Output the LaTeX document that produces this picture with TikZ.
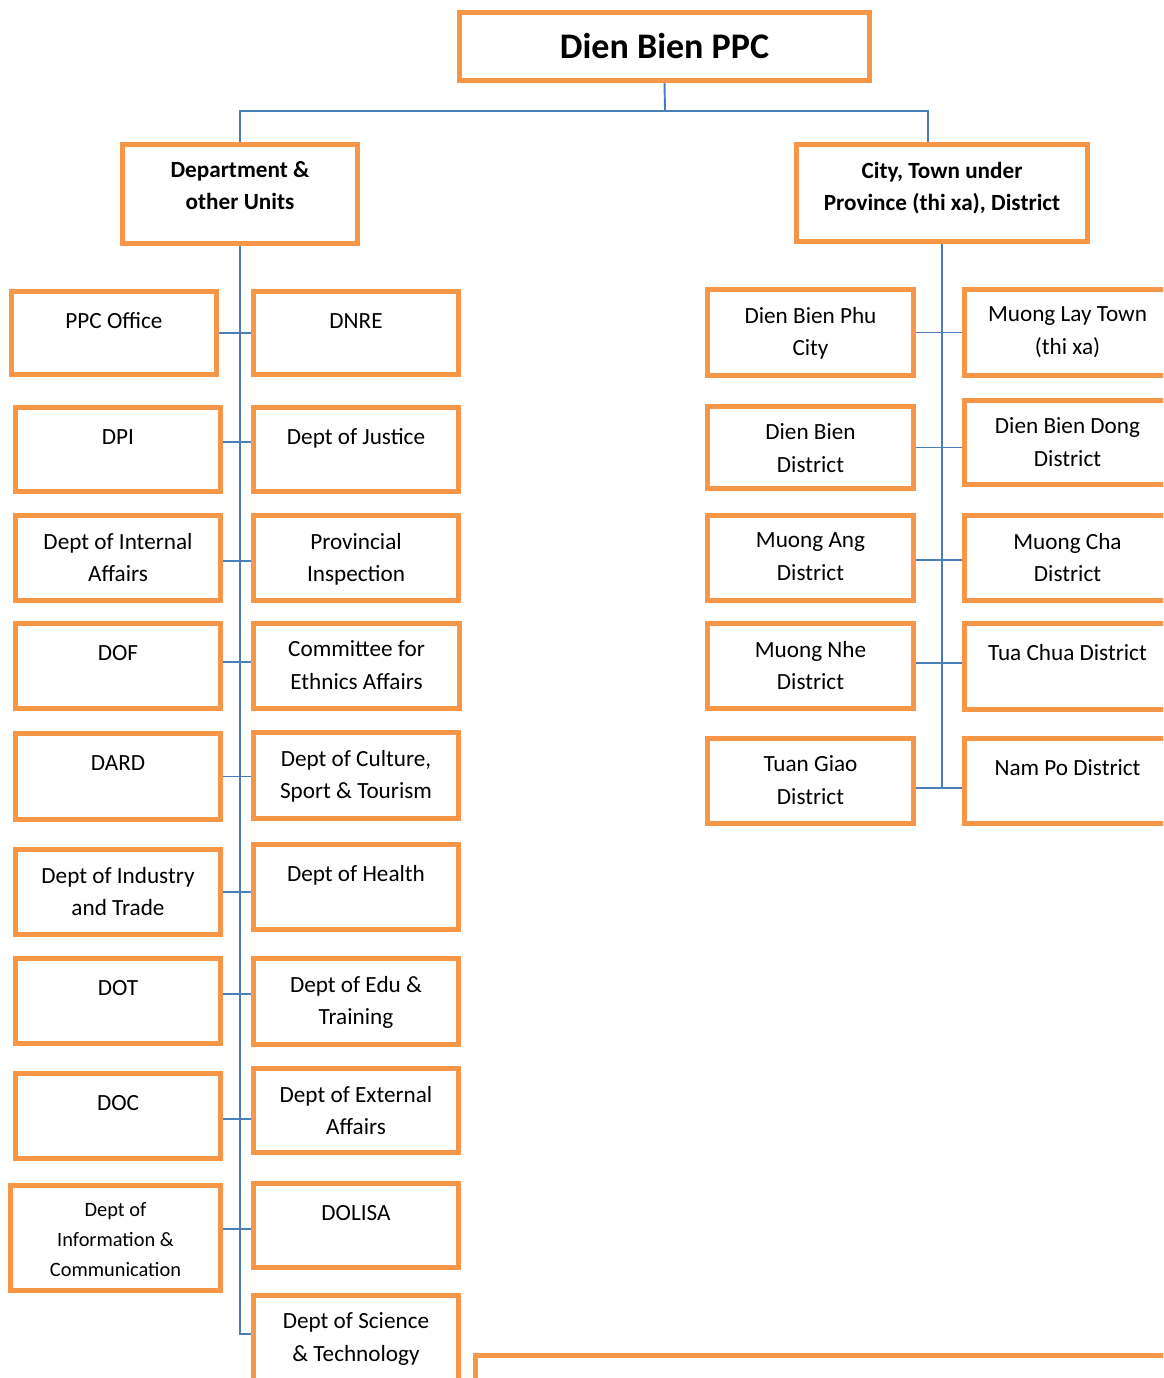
\documentclass[tikz,border=0pt]{standalone}
\usepackage{fontspec}
\setmainfont{Carlito}
\definecolor{boxorange}{HTML}{F79646}
\definecolor{linkblue}{HTML}{4A7EBB}
\tikzset{
  unitbox/.style={draw=boxorange, line width=2.8pt, rectangle, inner sep=0pt, fill=white},
  unittext/.style={font=\fontsize{13.2}{18.4}\selectfont, align=center, anchor=north, inner sep=0pt,
    execute at begin node={\rule{0pt}{11pt}}},
  headtext/.style={unittext, font=\fontsize{13.2}{18.2}\selectfont\bfseries},
  smalltext/.style={unittext, font=\fontsize{11.6}{17}\selectfont},
  link/.style={draw=linkblue, line width=1.1pt}
}
\def\pxu{0.02cm}
% box from outer corners: name, x1, y1, x2, y2, text style, text
\def\orgbox(#1,#2,#3,#4,#5,#6,#7){
  \node[unitbox, minimum width={(#4-#2-5)*\pxu}, minimum height={(#5-#3-5)*\pxu}] (#1) at ({(#2+#4)/2},{(#3+#5)/2}) {};
  \node[#6] (#1t) at ({(#2+#4)/2},{#3+19.6}) {#7};
}
% connector across the spine
\def\linkrow(#1,#2,#3){
  \coordinate (#1c) at ([yshift=#3]#1.east);
  \draw[link] (#1c) -- (#1c -| #2.west);
}
\begin{document}
\begin{tikzpicture}[x=0.02cm, y=-0.02cm]
\useasboundingbox (0,0) rectangle (1163,1378);
\clip (0,0) rectangle (1163,1378);

% top
\node[unitbox, minimum width=8.2cm, minimum height=1.36cm, font=\fontsize{20.5}{24}\selectfont\bfseries] (ppc) at (664.5,46.5) {Dien Bien PPC};
\orgbox(dept,120,142,360,246,headtext,{Department \&\\ other Units})
\orgbox(city,794,142,1090,244,headtext,{City, Town under\\ Province (thi xa), District})

% departments
\orgbox(ppco,9,289,219,377,unittext,PPC Office)
\orgbox(dnre,251,289,461,377,unittext,DNRE)
\orgbox(dpi,13,405,223,494,unittext,DPI)
\orgbox(doj,251,405,461,494,unittext,Dept of Justice)
\orgbox(dia,13,513,223,603,unittext,Dept of Internal\\ Affairs)
\orgbox(pin,251,513,461,603,unittext,Provincial\\ Inspection)
\orgbox(dof,13,621,223,711,unittext,DOF)
\orgbox(cea,251,621,462,711,unittext,Committee for\\ Ethnics Affairs)
\orgbox(dard,13,731,223,822,unittext,DARD)
\orgbox(dcst,251,730,461,821,unittext,{Dept of Culture,\\ Sport \& Tourism})
\orgbox(dit,13,847,223,937,unittext,Dept of Industry\\ and Trade)
\orgbox(doh,251,842,461,932,unittext,Dept of Health)
\orgbox(dot,13,956,223,1046,unittext,DOT)
\orgbox(det,251,956,461,1047,unittext,Dept of Edu \&\\ Training)
\orgbox(doc,13,1071,223,1161,unittext,DOC)
\orgbox(dea,251,1066,461,1155,unittext,Dept of External\\ Affairs)
\orgbox(dic,8,1183,223,1293,smalltext,Dept of\\ Information \&\\ Communication)
\orgbox(dolisa,251,1181,461,1270,unittext,DOLISA)
\orgbox(dst,251,1293,461,1390,unittext,Dept of Science\\ \& Technology)

% districts
\orgbox(dbp,705,287,916,378,unittext,Dien Bien Phu\\ City)
\orgbox(mlt,962,287,1173,378,unittext,{Muong Lay Town\\ (thi xa)})
\orgbox(dbd,705,404,916,491,unittext,Dien Bien\\ District)
\orgbox(dbdd,962,398,1173,487,unittext,Dien Bien Dong\\ District)
\orgbox(mad,705,513,916,603,unittext,Muong Ang\\ District)
\orgbox(mcd,962,513,1173,603,unittext,Muong Cha\\ District)
\orgbox(mnd,705,621,916,711,unittext,Muong Nhe\\ District)
\orgbox(tcd,962,621,1173,712,unittext,Tua Chua District)
\orgbox(tgd,705,736,916,826,unittext,Tuan Giao\\ District)
\orgbox(npd,962,736,1173,826,unittext,Nam Po District)

% note below
\node[unitbox, minimum width=13.94cm, minimum height=2.04cm] (note) at (824,1406.5) {};

% links
\coordinate (split) at (665,111);
\draw[link] (ppc.south) -- (split);
\draw[link] (dept.north) |- (split) -| ([xshift=-0.28cm]city.north);

\linkrow(ppco,dnre,0cm)
\linkrow(dpi,doj,0.15cm)
\linkrow(dia,pin,-0.06cm)
\linkrow(dof,cea,0.08cm)
\linkrow(dard,dcst,0cm)
\linkrow(dit,doh,0cm)
\linkrow(dot,det,0.14cm)
\linkrow(doc,dea,-0.06cm)
\linkrow(dic,dolisa,0.18cm)
\coordinate (dstc) at ([yshift=0.15cm]dst.west);
\draw[link] (dept.south) |- (dstc);

\linkrow(dbp,mlt,0cm)
\linkrow(dbd,dbdd,0cm)
\linkrow(mad,mcd,-0.04cm)
\linkrow(mnd,tcd,0.06cm)
\linkrow(tgd,npd,-0.14cm)
\draw[link] (city.south) |- (tgdc);
\end{tikzpicture}
\end{document}
